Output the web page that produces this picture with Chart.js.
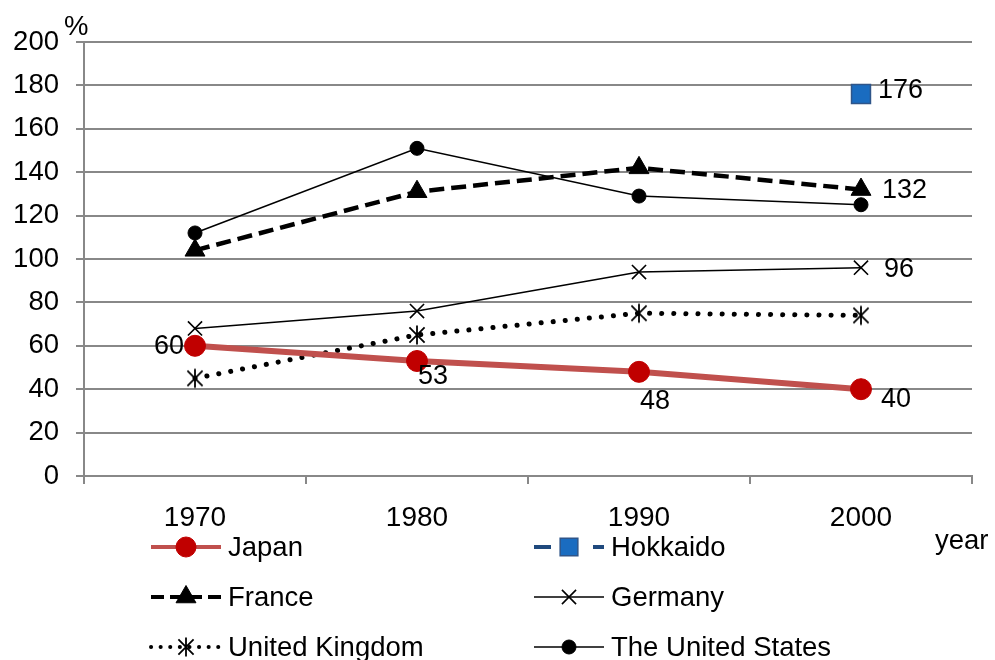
<!DOCTYPE html>
<html>
<head>
<meta charset="utf-8">
<script src="https://cdn.jsdelivr.net/npm/chart.js@4.4.1/dist/chart.umd.min.js"></script>
<style>
  html, body { margin: 0; padding: 0; background: #fff; }
  #wrap { width: 995px; height: 660px; position: relative; }
</style>
</head>
<body>
<div id="wrap"><canvas id="ratioChart"></canvas></div>
<script>
// Self-sufficiency ratio (%) by year
const years = ['1970', '1980', '1990', '2000'];
const japan = [60, 53, 48, 40];
const hokkaido = [null, null, null, 176];
const france = [104, 131, 142, 132];
const germany = [68, 76, 94, 96];
const unitedKingdom = [45, 65, 75, 74];
const unitedStates = [112, 151, 129, 125];
const yMin = 0, yMax = 200, yStep = 20;

const FONT = "'Liberation Sans', Arial, sans-serif";
const GRID = '#888888';

// asterisk marker (vertical stroke + X) for the UK series
function makeAsterisk(size) {
    const c = document.createElement('canvas');
    c.width = size; c.height = size;
    const g = c.getContext('2d');
    g.strokeStyle = '#000';
    g.lineWidth = 1.8;
    const m = size / 2, r = size / 2 - 1.5;
    g.beginPath();
    g.moveTo(m, m - r); g.lineTo(m, m + r);
    g.moveTo(m - r * 0.8, m - r * 0.8); g.lineTo(m + r * 0.8, m + r * 0.8);
    g.moveTo(m + r * 0.8, m - r * 0.8); g.lineTo(m - r * 0.8, m + r * 0.8);
    g.stroke();
    return c;
}
const asterisk = makeAsterisk(22);

// which values get a number next to them, and where
const valueLabels = [
    { series: 0, index: 0, dx: -11, dy: 1, align: 'right' },
    { series: 0, index: 1, dx: 1, dy: 16, align: 'left' },
    { series: 0, index: 2, dx: 1, dy: 30, align: 'left' },
    { series: 0, index: 3, dx: 20, dy: 10, align: 'left' },
    { series: 1, index: 3, dx: 17, dy: -4, align: 'left' },
    { series: 2, index: 3, dx: 21, dy: 1, align: 'left' },
    { series: 3, index: 3, dx: 23, dy: 2, align: 'left' }
];

const valueLabelPlugin = {
    id: 'valueLabels',
    afterDatasetsDraw(chart) {
        const ctx = chart.ctx;
        ctx.save();
        ctx.font = '27px ' + FONT;
        ctx.fillStyle = '#000';
        ctx.textBaseline = 'middle';
        valueLabels.forEach(l => {
            const pt = chart.getDatasetMeta(l.series).data[l.index];
            const v = chart.data.datasets[l.series].data[l.index];
            ctx.textAlign = l.align;
            ctx.fillText(String(v), pt.x + l.dx, pt.y + l.dy);
        });
        ctx.restore();
    }
};

// two-column legend below the axis, line sample with marker in the middle
const legendPlugin = {
    id: 'sampleLegend',
    afterDraw(chart) {
        const ctx = chart.ctx;
        const colX = [151, 534];
        const rowY = [547, 597, 647];
        const len = 70;
        ctx.save();
        chart.data.datasets.forEach((ds, i) => {
            const x = colX[i % 2], y = rowY[Math.floor(i / 2)];
            ctx.save();
            ctx.strokeStyle = ds.legendColor || ds.borderColor;
            ctx.lineWidth = ds.legendWidth || ds.borderWidth;
            ctx.lineCap = ds.borderCapStyle || 'butt';
            ctx.setLineDash(ds.legendDash || ds.borderDash || []);
            ctx.beginPath();
            ctx.moveTo(x, y);
            ctx.lineTo(x + len, y);
            ctx.stroke();
            ctx.restore();
            ctx.save();
            ctx.fillStyle = ds.pointBackgroundColor;
            ctx.strokeStyle = ds.pointBorderColor;
            ctx.lineWidth = ds.pointBorderWidth;
            Chart.helpers.drawPoint(ctx, {
                pointStyle: ds.pointStyle,
                radius: ds.legendRadius || ds.pointRadius,
                rotation: 0,
                borderWidth: ds.pointBorderWidth
            }, x + len / 2, y);
            ctx.restore();
            ctx.fillStyle = '#000';
            ctx.font = '27.5px ' + FONT;
            ctx.textAlign = 'left';
            ctx.textBaseline = 'middle';
            ctx.fillText(ds.label, x + len + 7, y + 1);
        });
        // axis captions
        ctx.font = '27.5px ' + FONT;
        ctx.fillStyle = '#000';
        ctx.textBaseline = 'middle';
        ctx.textAlign = 'left';
        ctx.fillText('%', 64, 27);
        ctx.fillText('year', 935, 541);
        ctx.restore();
    }
};

new Chart(document.getElementById('ratioChart'), {
    type: 'line',
    data: {
        labels: years,
        datasets: [
            {
                label: 'Japan', data: japan,
                borderColor: '#C0504D', borderWidth: 6,
                pointStyle: 'circle', pointRadius: 10.5, legendRadius: 10,
                pointBackgroundColor: '#C00000', pointBorderColor: '#C00000', pointBorderWidth: 1,
                legendWidth: 4, order: 0
            },
            {
                label: 'Hokkaido', data: hokkaido,
                borderColor: '#1F497D', borderWidth: 4, borderDash: [14, 8],
                legendDash: [17, 42],
                pointStyle: 'rect', pointRadius: 13.4, legendRadius: 12.5,
                pointBackgroundColor: '#1A6CC0', pointBorderColor: '#2F5589', pointBorderWidth: 1.5,
                legendColor: '#1F497D', order: 1
            },
            {
                label: 'France', data: france,
                borderColor: '#000', borderWidth: 4.5, borderDash: [15, 7],
                legendDash: [13, 6], legendWidth: 4,
                pointStyle: 'triangle', pointRadius: 11.5,
                pointBackgroundColor: '#000', pointBorderColor: '#000', pointBorderWidth: 1,
                order: 2
            },
            {
                label: 'Germany', data: germany,
                borderColor: '#000', borderWidth: 1.6,
                pointStyle: 'crossRot', pointRadius: 10,
                pointBackgroundColor: '#000', pointBorderColor: '#000', pointBorderWidth: 1.6,
                order: 3
            },
            {
                label: 'United Kingdom', data: unitedKingdom,
                borderColor: '#000', borderWidth: 5, borderDash: [0.1, 12], borderCapStyle: 'round',
                legendWidth: 4, legendDash: [0.1, 9.5],
                pointStyle: asterisk, pointRadius: 10,
                pointBackgroundColor: '#000', pointBorderColor: '#000', pointBorderWidth: 1,
                order: 4
            },
            {
                label: 'The United States', data: unitedStates,
                borderColor: '#000', borderWidth: 1.6,
                pointStyle: 'circle', pointRadius: 7,
                pointBackgroundColor: '#000', pointBorderColor: '#000', pointBorderWidth: 1,
                order: 5
            }
        ]
    },
    options: {
        responsive: true,
        maintainAspectRatio: false,
        animation: false,
        layout: { padding: { top: 42, right: 23, left: 0, bottom: 0 } },
        elements: { line: { tension: 0 }, point: { hoverRadius: 0 } },
        plugins: {
            legend: { display: false },
            tooltip: { enabled: false }
        },
        scales: {
            x: {
                offset: true,
                afterFit(scale) { scale.height = 184; },
                grid: {
                    offset: true, drawOnChartArea: false, drawTicks: true,
                    tickLength: 8, color: GRID, lineWidth: 2
                },
                border: { display: true, color: GRID, width: 2 },
                ticks: { color: '#000', padding: 17, font: { family: FONT, size: 28 } }
            },
            y: {
                min: yMin, max: yMax,
                afterFit(scale) { scale.width = 84; },
                grid: { color: GRID, lineWidth: 2, drawTicks: true, tickLength: 8 },
                border: { display: true, color: GRID, width: 2 },
                ticks: { stepSize: yStep, color: '#000', padding: 17, font: { family: FONT, size: 27.5 } }
            }
        }
    },
    plugins: [valueLabelPlugin, legendPlugin]
});
</script>
</body>
</html>
